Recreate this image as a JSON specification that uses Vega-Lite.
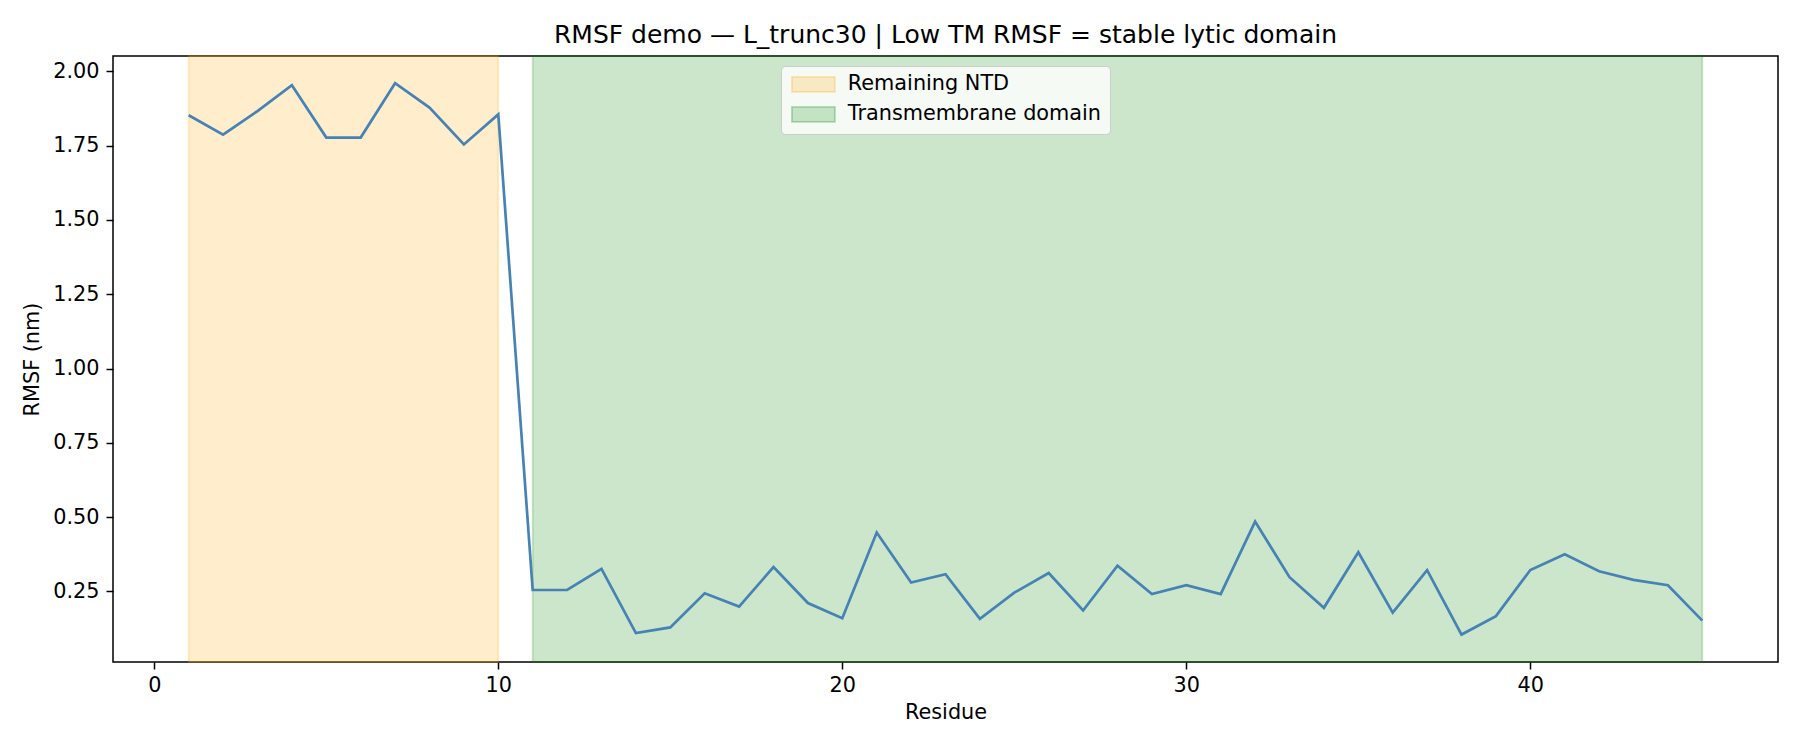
{
  "$schema": "https://vega.github.io/schema/vega-lite/v6.json",
  "autosize": {"type": "none"},
  "padding": {"left": 113, "top": 56, "right": 22, "bottom": 88},
  "width": 1665,
  "height": 606,
  "background": "white",
  "title": {
    "text": "RMSF demo — L_trunc30 | Low TM RMSF = stable lytic domain",
    "fontSize": 25,
    "fontWeight": "normal",
    "font": "DejaVu Sans",
    "color": "black",
    "anchor": "middle",
    "offset": 7
  },
  "datasets": {
    "spans": [
      {"start": 1, "end": 10, "region": "Remaining NTD"},
      {"start": 11, "end": 45, "region": "Transmembrane domain"}
    ],
    "rmsf": [
      {"residue": 1, "rmsf": 1.852},
      {"residue": 2, "rmsf": 1.787},
      {"residue": 3, "rmsf": 1.866},
      {"residue": 4, "rmsf": 1.953},
      {"residue": 5, "rmsf": 1.777},
      {"residue": 6, "rmsf": 1.777},
      {"residue": 7, "rmsf": 1.96},
      {"residue": 8, "rmsf": 1.878},
      {"residue": 9, "rmsf": 1.754},
      {"residue": 10, "rmsf": 1.855},
      {"residue": 11, "rmsf": 0.255},
      {"residue": 12, "rmsf": 0.255},
      {"residue": 13, "rmsf": 0.326},
      {"residue": 14, "rmsf": 0.11},
      {"residue": 15, "rmsf": 0.129},
      {"residue": 16, "rmsf": 0.244},
      {"residue": 17, "rmsf": 0.199},
      {"residue": 18, "rmsf": 0.332},
      {"residue": 19, "rmsf": 0.211},
      {"residue": 20, "rmsf": 0.16},
      {"residue": 21, "rmsf": 0.448},
      {"residue": 22, "rmsf": 0.28},
      {"residue": 23, "rmsf": 0.308},
      {"residue": 24, "rmsf": 0.158},
      {"residue": 25, "rmsf": 0.246},
      {"residue": 26, "rmsf": 0.312},
      {"residue": 27, "rmsf": 0.186},
      {"residue": 28, "rmsf": 0.337},
      {"residue": 29, "rmsf": 0.241},
      {"residue": 30, "rmsf": 0.271},
      {"residue": 31, "rmsf": 0.241},
      {"residue": 32, "rmsf": 0.485},
      {"residue": 33, "rmsf": 0.298},
      {"residue": 34, "rmsf": 0.195},
      {"residue": 35, "rmsf": 0.382},
      {"residue": 36, "rmsf": 0.179},
      {"residue": 37, "rmsf": 0.322},
      {"residue": 38, "rmsf": 0.105},
      {"residue": 39, "rmsf": 0.167},
      {"residue": 40, "rmsf": 0.322},
      {"residue": 41, "rmsf": 0.375},
      {"residue": 42, "rmsf": 0.318},
      {"residue": 43, "rmsf": 0.289},
      {"residue": 44, "rmsf": 0.271},
      {"residue": 45, "rmsf": 0.152}
    ]
  },
  "layer": [
    {
      "data": {"name": "spans"},
      "mark": {"type": "rect", "fillOpacity": 0.2, "strokeOpacity": 0.2, "strokeWidth": 1.8},
      "encoding": {
        "x": {
          "field": "start",
          "type": "quantitative",
          "scale": {"domain": [-1.2, 47.2], "nice": false, "zero": false},
          "axis": {"values": [0, 10, 20, 30, 40], "title": "Residue"}
        },
        "x2": {"field": "end"},
        "y": {"value": 0},
        "y2": {"value": "height"},
        "fill": {
          "field": "region",
          "type": "nominal",
          "scale": {"domain": ["Remaining NTD", "Transmembrane domain"], "range": ["orange", "green"]},
          "legend": {
            "title": null,
            "orient": "none",
            "legendX": 668,
            "legendY": 10,
            "symbolType": "M-1,-1L4.73,-1L4.73,1L-1,1Z",
            "symbolSize": 225,
            "symbolOpacity": 1,
            "symbolStrokeWidth": 1.8,
            "labelFontSize": 20.8,
            "labelFont": "DejaVu Sans",
            "labelColor": "black",
            "labelLimit": 500,
            "labelOffset": 38,
            "rowPadding": 7,
            "padding": 8,
            "fillColor": "rgba(255,255,255,0.8)",
            "strokeColor": "#cccccc",
            "cornerRadius": 4,
            "encode": {
              "symbols": {
                "update": {
                  "stroke": {"scale": "fill", "field": "value"},
                  "fillOpacity": {"value": 0.2},
                  "strokeOpacity": {"value": 0.25},
                  "opacity": {"value": 1}
                }
              }
            }
          }
        },
        "stroke": {
          "field": "region",
          "type": "nominal",
          "scale": {"domain": ["Remaining NTD", "Transmembrane domain"], "range": ["orange", "green"]},
          "legend": null
        }
      }
    },
    {
      "data": {"name": "rmsf"},
      "mark": {"type": "line", "color": "steelblue", "strokeWidth": 2.7},
      "encoding": {
        "x": {"field": "residue", "type": "quantitative"},
        "y": {
          "field": "rmsf",
          "type": "quantitative",
          "scale": {"domain": [0.0127, 2.0514], "nice": false, "zero": false},
          "axis": {
            "values": [0.25, 0.5, 0.75, 1.0, 1.25, 1.5, 1.75, 2.0],
            "format": ".2f",
            "title": "RMSF (nm)"
          }
        }
      }
    }
  ],
  "config": {
    "view": {"stroke": "black", "strokeWidth": 1.5},
    "axis": {
      "domain": false,
      "grid": false,
      "ticks": true,
      "tickColor": "black",
      "tickWidth": 1.5,
      "tickSize": 7,
      "labelFont": "DejaVu Sans",
      "labelFontSize": 20.8,
      "labelColor": "black",
      "titleFont": "DejaVu Sans",
      "titleFontSize": 20.8,
      "titleFontWeight": "normal",
      "titleColor": "black"
    },
    "axisX": {"labelPadding": 6, "titlePadding": 8},
    "axisY": {"labelPadding": 7, "titlePadding": 10}
  }
}
